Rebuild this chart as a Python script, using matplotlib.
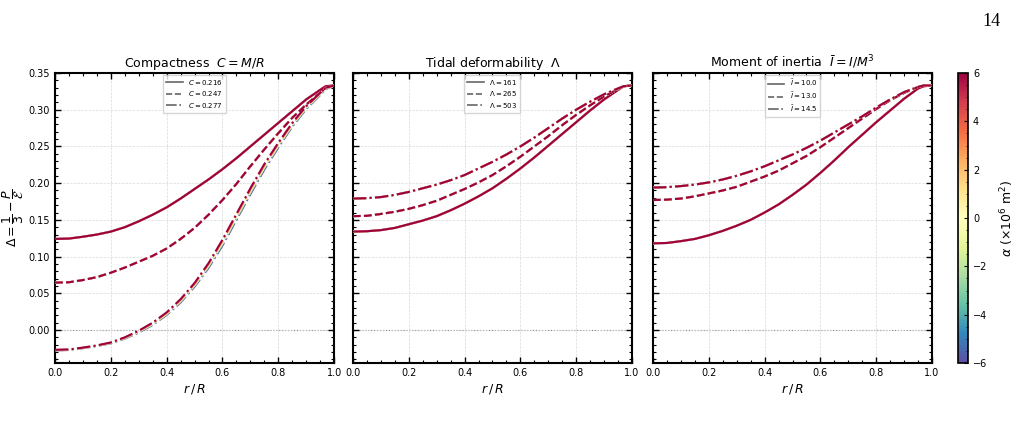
import numpy as np
import matplotlib
matplotlib.use("Agg")
import matplotlib.pyplot as plt
from matplotlib.ticker import MultipleLocator, AutoMinorLocator

# radial grid r/R
r = [0.0, 0.05, 0.1, 0.15, 0.2, 0.25, 0.3, 0.35, 0.4, 0.45, 0.5, 0.55,
     0.6, 0.65, 0.7, 0.75, 0.8, 0.85, 0.9, 0.95, 0.97, 1.0]

# alpha values (x10^6 m^2) for the colour scale
alphas = [-6, -3, 0, 3, 6]

# panel 1: compactness
labels_C = ["$C = 0.216$", "$C = 0.247$", "$C = 0.277$"]
dC_216 = [0.124, 0.1245, 0.127, 0.130, 0.134, 0.140, 0.148, 0.157, 0.167, 0.179, 0.192, 0.205,
          0.219, 0.234, 0.250, 0.266, 0.282, 0.298, 0.314, 0.327, 0.332, 0.333]
dC_247 = [0.0645, 0.065, 0.068, 0.072, 0.078, 0.085, 0.093, 0.101, 0.111, 0.124, 0.139, 0.157,
          0.177, 0.199, 0.223, 0.246, 0.268, 0.289, 0.307, 0.323, 0.330, 0.333]
# C=0.277 spreads a little with alpha (one row per alpha)
dC_277 = [
    [-0.0278, -0.0273, -0.0248, -0.0218, -0.0182, -0.0118, -0.0035, 0.007, 0.0205, 0.0375, 0.059, 0.0845,
     0.115, 0.150, 0.185, 0.2185, 0.2485, 0.277, 0.301, 0.320, 0.328, 0.333],
    [-0.0276, -0.0271, -0.0246, -0.0216, -0.0179, -0.0114, -0.0029, 0.0078, 0.0214, 0.0386, 0.0603, 0.0861,
     0.117, 0.152, 0.187, 0.2204, 0.2501, 0.2783, 0.302, 0.3208, 0.3285, 0.333],
    [-0.0274, -0.0269, -0.0244, -0.0214, -0.0176, -0.0109, -0.0022, 0.0085, 0.0222, 0.0398, 0.0615, 0.0878,
     0.119, 0.154, 0.189, 0.2223, 0.2518, 0.2795, 0.303, 0.3215, 0.329, 0.333],
    [-0.0272, -0.0267, -0.0242, -0.0212, -0.0173, -0.0105, -0.0016, 0.0093, 0.0231, 0.0409, 0.0628, 0.0894,
     0.121, 0.156, 0.191, 0.2242, 0.2534, 0.2808, 0.304, 0.3223, 0.3295, 0.333],
    [-0.027, -0.0265, -0.024, -0.021, -0.017, -0.010, -0.001, 0.010, 0.024, 0.042, 0.064, 0.091,
     0.123, 0.158, 0.193, 0.226, 0.255, 0.282, 0.305, 0.323, 0.330, 0.333],
]

# panel 2: tidal deformability
labels_L = [r"$\Lambda = 161$", r"$\Lambda = 265$", r"$\Lambda = 503$"]
dL_161 = [0.134, 0.1345, 0.136, 0.139, 0.144, 0.149, 0.155, 0.163, 0.172, 0.182, 0.193, 0.206,
          0.220, 0.235, 0.251, 0.267, 0.283, 0.299, 0.314, 0.327, 0.332, 0.333]
dL_265 = [0.155, 0.1555, 0.158, 0.161, 0.165, 0.170, 0.176, 0.184, 0.192, 0.201, 0.211, 0.223,
          0.236, 0.250, 0.264, 0.279, 0.293, 0.306, 0.318, 0.328, 0.332, 0.333]
dL_503 = [0.179, 0.1795, 0.181, 0.184, 0.188, 0.193, 0.198, 0.204, 0.211, 0.220, 0.229, 0.239,
          0.250, 0.262, 0.275, 0.288, 0.300, 0.311, 0.321, 0.329, 0.332, 0.333]

# panel 3: moment of inertia
labels_I = [r"$\bar{I} = 10.0$", r"$\bar{I} = 13.0$", r"$\bar{I} = 14.5$"]
dI_100 = [0.118, 0.1185, 0.121, 0.124, 0.129, 0.135, 0.142, 0.150, 0.160, 0.171, 0.184, 0.198,
          0.214, 0.231, 0.249, 0.266, 0.283, 0.299, 0.315, 0.329, 0.332, 0.333]
dI_130 = [0.177, 0.1775, 0.179, 0.182, 0.186, 0.190, 0.195, 0.202, 0.209, 0.217, 0.227, 0.237,
          0.249, 0.262, 0.275, 0.288, 0.301, 0.313, 0.323, 0.331, 0.333, 0.333]
dI_145 = [0.194, 0.1945, 0.196, 0.198, 0.201, 0.205, 0.210, 0.216, 0.223, 0.231, 0.239, 0.248,
          0.258, 0.269, 0.280, 0.291, 0.303, 0.314, 0.324, 0.331, 0.333, 0.333]

titles = ["Compactness  $C = M/R$", r"Tidal deformability  $\Lambda$",
          r"Moment of inertia  $\bar{I} = I/M^3$"]

styles = ["-", "--", "-."]

cmap = plt.get_cmap("Spectral_r")
norm = matplotlib.colors.Normalize(vmin=-6, vmax=6)

fig = plt.figure(figsize=(10.23, 4.23), dpi=100)
lefts = [0.0538, 0.345, 0.6383]
bottom = 0.1418
height = 0.6856
axes = [fig.add_axes([l, bottom, 0.2728, height]) for l in lefts]

panels = [
    (labels_C, [dC_216, dC_247, dC_277]),
    (labels_L, [dL_161, dL_265, dL_503]),
    (labels_I, [dI_100, dI_130, dI_145]),
]

for k, ax in enumerate(axes):
    labs, curves = panels[k]
    ax.axhline(0.0, color="0.45", lw=0.8, ls=":", zorder=1)
    for j, c in enumerate(curves):
        if isinstance(c[0], list):
            for a, row in zip(alphas, c):
                ax.plot(r, row, ls=styles[j], color=cmap(norm(a)), lw=1.5, zorder=3)
        else:
            for a in alphas:
                ax.plot(r, c, ls=styles[j], color=cmap(norm(a)), lw=1.5, zorder=3)
    # legend proxies
    handles = [plt.Line2D([], [], ls=styles[j], color="0.4", lw=1.2) for j in range(3)]
    ax.legend(handles, labs, loc="upper center", fontsize=5, frameon=True,
              handlelength=2.4, borderpad=0.4, labelspacing=0.35,
              borderaxespad=0.3, fancybox=False, edgecolor="0.8")
    ax.set_xlim(0, 1)
    ax.set_ylim(-0.045, 0.35)
    ax.set_title(titles[k], fontsize=9, pad=4)
    ax.set_xlabel(r"$r\,/\,R$", fontsize=9, labelpad=3)
    ax.xaxis.set_major_locator(MultipleLocator(0.2))
    ax.xaxis.set_minor_locator(AutoMinorLocator(4))
    ax.yaxis.set_major_locator(MultipleLocator(0.05))
    ax.yaxis.set_minor_locator(AutoMinorLocator(5))
    ax.tick_params(which="both", direction="in", top=True, right=True)
    ax.tick_params(which="major", length=4, width=1.0, labelsize=7)
    ax.tick_params(which="minor", length=2, width=0.8)
    for lab in ax.get_xticklabels():
        lab.set_family(["Liberation Sans Narrow", "DejaVu Sans"])
        lab.set_fontsize(7)
    ax.grid(True, ls="--", lw=0.5, color="0.85")
    for s in ax.spines.values():
        s.set_linewidth(1.5)
    if k > 0:
        ax.set_yticklabels([])

axes[0].set_ylabel(r"$\Delta = \dfrac{1}{3} - \dfrac{P}{\mathcal{E}}$", fontsize=9, labelpad=2)

cax = fig.add_axes([0.9365, bottom, 0.0098, height])
sm = matplotlib.cm.ScalarMappable(norm=norm, cmap=cmap)
cb = fig.colorbar(sm, cax=cax)
cb.set_ticks([-6, -4, -2, 0, 2, 4, 6])
cb.ax.yaxis.set_minor_locator(AutoMinorLocator(4))
cb.ax.tick_params(which="both", direction="in", labelsize=7)
cb.ax.tick_params(which="major", length=3)
cb.ax.tick_params(which="minor", length=1.5)
cb.outline.set_linewidth(1.2)
cb.set_label(r"$\alpha$ $(\times 10^6\ \mathrm{m}^2)$", fontsize=9, labelpad=8)

fig.text(0.978, 0.97, "14", ha="right", va="top", fontsize=13, family="Liberation Serif")

fig.savefig("out.png", dpi=100)
